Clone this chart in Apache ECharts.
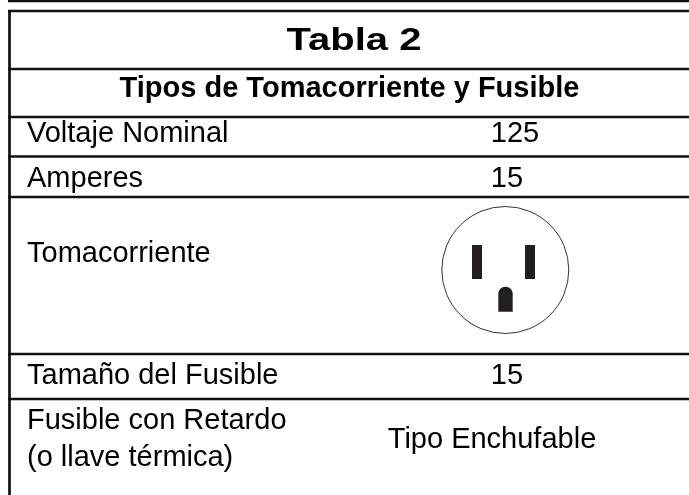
<!DOCTYPE html>
<html><head><meta charset="utf-8">
<style>html,body{margin:0;padding:0;background:#fff}#c{width:689px;height:495px}</style>
<script src="https://cdn.jsdelivr.net/npm/echarts@6/dist/echarts.min.js"></script>
</head><body><div id="c"></div>
<script>
const tableTitle = 'Tabla 2';
const tableSubtitle = 'Tipos de Tomacorriente y Fusible';
const rowLabels = ['Voltaje Nominal', 'Amperes', 'Tomacorriente', 'Tamaño del Fusible', 'Fusible con Retardo\n(o llave térmica)'];
const rowValues = ['125', '15', '', '15', 'Tipo Enchufable'];

const FONT = '"Liberation Sans", Arial, sans-serif';
const INK = '#111';
const ruleY = [69, 117, 156.5, 197, 354, 399];
const labelY = [134, 179, 254, 376, 439];
const valueY = [134, 179, null, 376, 440];
const valueX = [515, 507, null, 507, 492];

const g = [];
const hline = (y, x1, w) => g.push({type:'line', shape:{x1:x1, y1:y, x2:689, y2:y}, style:{stroke:INK, lineWidth:w}});
hline(1, 8, 2.5);
hline(11, 8, 2.5);
ruleY.forEach(y => hline(y, 8, 2.6));
g.push({type:'line', shape:{x1:9.5, y1:10, x2:9.5, y2:495}, style:{stroke:INK, lineWidth:2.7}});

const text = (t, x, y, size, weight, align, lh) => g.push({type:'text', x:x, y:y, style:{
  text:t, fill:'#000', font:(weight||'normal')+' '+size+'px '+FONT, textAlign:align||'left', textVerticalAlign:'middle', lineHeight:lh||size}});

g.push({type:'text', x:354, y:41, scaleX:1.29, style:{text:tableTitle, fill:'#000',
  font:'bold 31px '+FONT, textAlign:'center', textVerticalAlign:'middle'}});
text(tableSubtitle, 349.5, 89, 29, 'bold', 'center');
rowLabels.forEach((t, i) => text(t, 27, labelY[i], 29, 'normal', 'left', 37));
rowValues.forEach((t, i) => { if (t) text(t, valueX[i], valueY[i], 29, 'normal', 'center'); });

// receptacle
g.push({type:'circle', shape:{cx:505.3, cy:270, r:63.5}, style:{fill:'#fff', stroke:'#333', lineWidth:1}});
g.push({type:'rect', shape:{x:472, y:245, width:10, height:34}, style:{fill:'#231f20'}});
g.push({type:'rect', shape:{x:525, y:245, width:10, height:34}, style:{fill:'#231f20'}});
g.push({type:'rect', shape:{x:498.3, y:286.7, width:14.4, height:25, r:[7,7,0,0]}, style:{fill:'#231f20'}});

const chart = echarts.init(document.getElementById('c'), null, {renderer:'canvas'});
chart.setOption({animation:false, backgroundColor:'#fff', graphic:{elements:g}});
</script></body></html>
